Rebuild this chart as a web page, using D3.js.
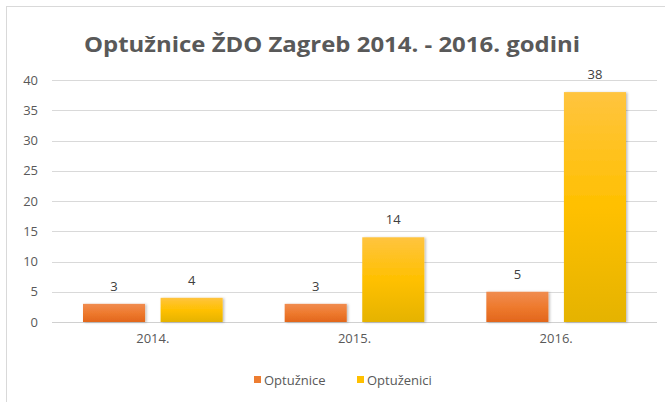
<!DOCTYPE html>
<html>
<head>
<meta charset="utf-8">
<script src="https://cdn.jsdelivr.net/npm/d3@7"></script>
<style>
  body { margin: 0; background: #fff; }
  svg { display: block; font-family: "Open Sans", "Noto Sans", sans-serif; }
</style>
</head>
<body>
<svg id="chart" width="665" height="402"></svg>
<script>
// chart data
const years = ["2014.", "2015.", "2016."];
const seriesNames = ["Optužnice", "Optuženici"];
const optuznice = [3, 3, 5];
const optuzenici = [4, 14, 38];
const yTicks = [0, 5, 10, 15, 20, 25, 30, 35, 40];
const titleText = "Optužnice ŽDO Zagreb 2014. - 2016. godini";

const rows = years.map(function (y, i) {
    return { year: y, values: [optuznice[i], optuzenici[i]] };
});

let chart = d3.select("#chart");

// frame
chart.append("rect")
    .attr("x", 6.5).attr("y", 6.5)
    .attr("width", 700).attr("height", 420)
    .attr("fill", "#fff")
    .attr("stroke", "#d9d9d9");

// gradients
let defs = chart.append("defs");
let gOr = defs.append("linearGradient").attr("id", "gradOr")
    .attr("x1", 0).attr("y1", 0).attr("x2", 0).attr("y2", 1);
gOr.append("stop").attr("offset", "0%").attr("stop-color", "#f08c50");
gOr.append("stop").attr("offset", "50%").attr("stop-color", "#ee7a2e");
gOr.append("stop").attr("offset", "100%").attr("stop-color", "#e2661c");
let gYe = defs.append("linearGradient").attr("id", "gradYe")
    .attr("x1", 0).attr("y1", 0).attr("x2", 0).attr("y2", 1);
gYe.append("stop").attr("offset", "0%").attr("stop-color", "#ffc43f");
gYe.append("stop").attr("offset", "50%").attr("stop-color", "#ffc000");
gYe.append("stop").attr("offset", "100%").attr("stop-color", "#e5b300");
let shadow = defs.append("filter").attr("id", "shadow")
    .attr("x", "-10%").attr("y", "-10%").attr("width", "130%").attr("height", "130%");
shadow.append("feDropShadow").attr("dx", 1.5).attr("dy", 0.5)
    .attr("stdDeviation", 1.2).attr("flood-color", "#000").attr("flood-opacity", 0.25);

const fills = ["url(#gradOr)", "url(#gradYe)"];
const legendColors = ["#ed7d31", "#ffc000"];

// title
chart.append("text")
    .text(titleText)
    .attr("x", 332)
    .attr("y", 52)
    .attr("text-anchor", "middle")
    .attr("font-size", "22px")
    .attr("font-weight", 700)
    .attr("fill", "#595959")
    .attr("textLength", 496)
    .attr("lengthAdjust", "spacingAndGlyphs");

// scales
let x0 = d3.scaleBand()
    .domain(years)
    .range([52, 657])
    .padding(0);

let x1 = d3.scaleBand()
    .domain([0, 1])
    .range([31, x0.bandwidth() - 31])
    .paddingInner(0.2);

let y = d3.scaleLinear()
    .domain([0, 40])
    .range([322, 80]);

// gridlines
chart.append("g")
    .selectAll("line")
    .data(yTicks)
    .enter()
    .append("line")
    .attr("x1", 52).attr("x2", 657)
    .attr("y1", function (d) { return Math.round(y(d)) + 0.5; })
    .attr("y2", function (d) { return Math.round(y(d)) + 0.5; })
    .attr("stroke", function (d) { return d === 0 ? "#d0d0d0" : "#d9d9d9"; })
    .attr("stroke-width", 1);

// y axis labels
let yAxis = d3.axisLeft(y).tickValues(yTicks).tickSize(0).tickPadding(0);
let yAxisGroup = chart.append("g")
    .attr("transform", "translate(38,0)")
    .call(yAxis);
yAxisGroup.select(".domain").remove();
yAxisGroup.selectAll("text")
    .attr("font-family", "'Open Sans', sans-serif")
    .attr("font-size", "13px")
    .attr("fill", "#595959");

// x axis labels
let xAxis = d3.axisBottom(x0).tickSize(0).tickPadding(0);
let xAxisGroup = chart.append("g")
    .attr("transform", "translate(0,334)")
    .call(xAxis);
xAxisGroup.select(".domain").remove();
xAxisGroup.selectAll("text")
    .attr("font-family", "'Open Sans', sans-serif")
    .attr("font-size", "13px")
    .attr("fill", "#595959");

// bars
let groups = chart.selectAll("g.year")
    .data(rows)
    .enter()
    .append("g")
    .attr("class", "year")
    .attr("transform", function (d) { return "translate(" + x0(d.year) + ",0)"; });

groups.selectAll("rect")
    .data(function (d) { return d.values; })
    .enter()
    .append("rect")
    .attr("x", function (d, i) { return x1(i); })
    .attr("y", function (d) { return y(d); })
    .attr("width", x1.bandwidth())
    .attr("height", function (d) { return y(0) - y(d); })
    .attr("fill", function (d, i) { return fills[i]; })
    .attr("filter", "url(#shadow)");

// value labels
groups.selectAll("text.val")
    .data(function (d) { return d.values; })
    .enter()
    .append("text")
    .attr("class", "val")
    .text(function (d) { return d; })
    .attr("x", function (d, i) { return x1(i) + x1.bandwidth() / 2; })
    .attr("y", function (d) { return y(d) - 13; })
    .attr("text-anchor", "middle")
    .attr("font-size", "13px")
    .attr("fill", "#404040");

// legend
let legend = chart.append("g");
const legendX = [254, 357];
seriesNames.forEach(function (name, i) {
    legend.append("rect")
        .attr("x", legendX[i]).attr("y", 376)
        .attr("width", 7).attr("height", 7)
        .attr("fill", legendColors[i]);
    legend.append("text")
        .text(name)
        .attr("x", legendX[i] + 10)
        .attr("y", 384.5)
        .attr("font-size", "13px")
        .attr("fill", "#595959");
});
</script>
</body>
</html>
